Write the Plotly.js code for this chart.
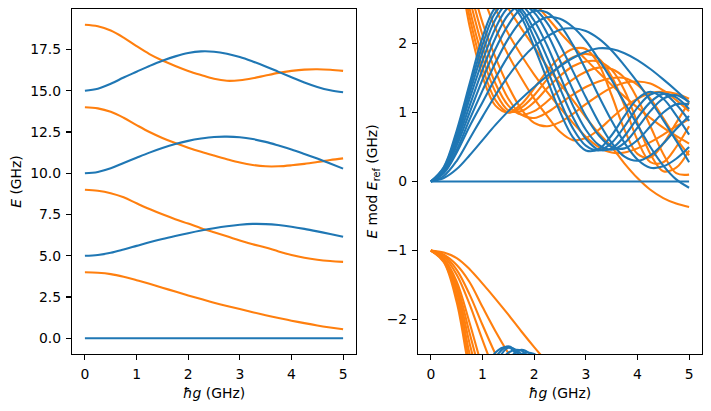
<!DOCTYPE html>
<html>
<head>
<meta charset="utf-8">
<script src="https://cdn.plot.ly/plotly-3.0.1.min.js"></script>
<style>
  html, body { margin: 0; padding: 0; background: #ffffff; }
  #chart { width: 711px; height: 411px; }
</style>
</head>
<body>
<div id="chart"></div>
<script>
// coupling strength values (GHz)
const g = [0, 0.25, 0.5, 0.75, 1, 1.25, 1.5, 1.75, 2, 2.25, 2.5, 2.75, 3, 3.25, 3.5, 3.75, 4, 4.25, 4.5, 4.75, 5];

// reference energy (GHz) used for the folding in the right panel
const eRef = 5;

// blue levels: deviation from n * E_ref
const blue0  = [0,0,0,0,0,0,0,0,0,0,0,0,0,0,0,0,0,0,0,0,0];
const blue1  = [0, 0.05, 0.18, 0.38, 0.6, 0.82, 1.02, 1.2, 1.37, 1.53, 1.67, 1.79, 1.88, 1.93, 1.92, 1.86, 1.76, 1.63, 1.48, 1.32, 1.15];
const blue2  = [0, 0.08, 0.3, 0.62, 0.94, 1.25, 1.53, 1.77, 1.96, 2.1, 2.2, 2.22, 2.18, 2.07, 1.9, 1.68, 1.44, 1.17, 0.89, 0.59, 0.28];
const blue3  = [0, 0.12, 0.42, 0.8, 1.15, 1.5, 1.82, 2.08, 2.28, 2.38, 2.36, 2.24, 2.04, 1.77, 1.47, 1.14, 0.82, 0.5, 0.23, 0.03, -0.09];
const blue4  = [0, 0.14, 0.46, 0.9, 1.32, 1.72, 2.07, 2.33, 2.47, 2.45, 2.27, 1.98, 1.62, 1.24, 0.88, 0.56, 0.32, 0.2, 0.22, 0.33, 0.5];
const blue5  = [0, 0.16, 0.52, 1.0, 1.48, 1.92, 2.27, 2.5, 2.5, 2.3, 1.98, 1.6, 1.22, 0.86, 0.56, 0.36, 0.3, 0.38, 0.55, 0.76, 0.95];
const blue6  = [0, 0.17, 0.57, 1.1, 1.62, 2.08, 2.42, 2.56, 2.45, 2.15, 1.75, 1.33, 0.95, 0.67, 0.5, 0.48, 0.6, 0.8, 1.0, 1.12, 1.12];
const blue7  = [0, 0.18, 0.62, 1.2, 1.75, 2.22, 2.52, 2.55, 2.33, 1.97, 1.53, 1.1, 0.75, 0.53, 0.46, 0.56, 0.78, 1.02, 1.2, 1.25, 1.15];
const blue8  = [0, 0.19, 0.66, 1.28, 1.87, 2.35, 2.59, 2.5, 2.2, 1.8, 1.35, 0.93, 0.62, 0.46, 0.48, 0.66, 0.92, 1.15, 1.27, 1.22, 1.05];
const blue9  = [0, 0.2, 0.7, 1.35, 1.98, 2.45, 2.61, 2.45, 2.08, 1.63, 1.17, 0.77, 0.52, 0.45, 0.56, 0.8, 1.07, 1.26, 1.28, 1.12, 0.88];
const blue10 = [0, 0.21, 0.74, 1.42, 2.09, 2.52, 2.6, 2.38, 1.95, 1.48, 1.01, 0.64, 0.45, 0.47, 0.67, 0.95, 1.2, 1.3, 1.2, 0.96, 0.68];

// orange levels: deviation from (n + 1) * E_ref
const orange0 = [-1, -1.03, -1.11, -1.27, -1.48, -1.7, -1.93, -2.17, -2.4, -2.62, -2.84, -3.04, -3.23, -3.42, -3.6, -3.77, -3.93, -4.08, -4.22, -4.34, -4.45];
const orange1 = [-1, -1.06, -1.21, -1.46, -1.82, -2.17, -2.49, -2.78, -3.05, -3.33, -3.58, -3.82, -4.07, -4.3, -4.5, -4.74, -4.95, -5.12, -5.24, -5.32, -5.37];
const orange2 = [-1, -1.07, -1.28, -1.64, -2.08, -2.5, -2.86, -3.17, -3.45, -3.7, -3.93, -4.15, -4.35, -4.5, -4.58, -4.58, -4.52, -4.43, -4.32, -4.2, -4.1];
const orange3 = [-1, -1.09, -1.35, -1.78, -2.3, -2.78, -3.17, -3.5, -3.8, -4.05, -4.28, -4.4, -4.37, -4.25, -4.08, -3.92, -3.8, -3.72, -3.7, -3.73, -3.8];
const orange4 = [-1, -1.12, -1.45, -2.05, -2.7, -3.2, -3.62, -3.95, -4.15, -4.2, -4.14, -4.02, -3.88, -3.75, -3.64, -3.57, -3.55, -3.58, -3.68, -3.82, -3.98];
const orange5 = [-1, -1.13, -1.5, -2.2, -2.88, -3.4, -3.8, -4.03, -4.08, -4.0, -3.87, -3.74, -3.63, -3.55, -3.5, -3.5, -3.6, -3.8, -4.08, -4.38, -4.62];
const orange6 = [-1, -1.14, -1.55, -2.35, -3.05, -3.58, -3.9, -4.03, -3.98, -3.84, -3.67, -3.52, -3.41, -3.35, -3.37, -3.5, -3.8, -4.2, -4.6, -4.88, -4.9];
const orange7 = [-1, -1.15, -1.6, -2.5, -3.2, -3.7, -3.97, -3.98, -3.85, -3.65, -3.47, -3.33, -3.26, -3.26, -3.38, -3.68, -4.15, -4.6, -4.85, -4.8, -4.55];
const orange8 = [-1, -1.16, -1.68, -2.62, -3.35, -3.82, -4.0, -3.93, -3.75, -3.52, -3.32, -3.2, -3.15, -3.22, -3.48, -3.9, -4.4, -4.72, -4.72, -4.5, -4.2];
const orange9 = [-1, -1.17, -1.75, -2.75, -3.48, -3.9, -4.0, -3.88, -3.65, -3.4, -3.2, -3.08, -3.08, -3.3, -3.75, -4.25, -4.6, -4.65, -4.45, -4.15, -3.85];

const blueLevels = [blue0, blue1, blue2, blue3, blue4, blue5, blue6, blue7, blue8, blue9, blue10];
const orangeLevels = [orange0, orange1, orange2, orange3, orange4, orange5, orange6, orange7, orange8, orange9];

const BLUE = '#1f77b4';
const ORANGE = '#ff7f0e';
const LW = 2.1;
const FONT = { family: 'DejaVu Sans', size: 13.9, color: '#000' };

const traces = [];
function line(x, y, color, xa, ya) {
  traces.push({
    x: x, y: y, type: 'scatter', mode: 'lines',
    line: { color: color, width: LW, shape: 'spline', smoothing: 1 },
    xaxis: xa, yaxis: ya, hoverinfo: 'skip', showlegend: false
  });
}

// left panel: the first four levels of each family, absolute energies
for (let n = 0; n < 4; n++) {
  line(g, orangeLevels[n].map(v => v + (n + 1) * eRef), ORANGE, 'x', 'y');
  line(g, blueLevels[n].map(v => v + n * eRef), BLUE, 'x', 'y');
}

// right panel: energies folded into [-E_ref/2, E_ref/2]
const shifts = [-eRef, 0, eRef, 2 * eRef];
function folded(dev, color) {
  shifts.forEach(s => {
    const y = dev.map(v => v + s);
    if (y.some(v => v > -2.75 && v < 2.75)) line(g, y, color, 'x2', 'y2');
  });
}
orangeLevels.forEach(d => folded(d, ORANGE));
blueLevels.forEach(d => folded(d, BLUE));

const axisCommon = {
  showgrid: false, zeroline: false,
  showline: true, mirror: true, linecolor: '#000', linewidth: 1.1,
  ticks: 'outside', ticklen: 5, tickwidth: 1.1, tickcolor: '#000',
  ticklabelstandoff: 2,
  tickfont: FONT
};

const layout = {
  width: 711, height: 411,
  margin: { l: 72.3, r: 8.7, t: 9.3, b: 57 },
  paper_bgcolor: '#ffffff', plot_bgcolor: '#ffffff',
  font: FONT,
  showlegend: false,
  xaxis: Object.assign({}, axisCommon, {
    domain: [0, 0.4508], range: [-0.25, 5.25], tickvals: [0, 1, 2, 3, 4, 5],
    title: { text: '<i>ħg</i> (GHz)', standoff: 7, font: FONT }
  }),
  yaxis: Object.assign({}, axisCommon, {
    domain: [0, 1], range: [-0.95, 19.95],
    tickvals: [0, 2.5, 5, 7.5, 10, 12.5, 15, 17.5], tickformat: '.1f',
    title: { text: '<i>E</i> (GHz)', standoff: 5, font: FONT }
  }),
  xaxis2: Object.assign({}, axisCommon, {
    domain: [0.5492, 1], range: [-0.25, 5.25], tickvals: [0, 1, 2, 3, 4, 5], anchor: 'y2',
    title: { text: '<i>ħg</i> (GHz)', standoff: 7, font: FONT }
  }),
  yaxis2: Object.assign({}, axisCommon, {
    domain: [0, 1], range: [-2.5, 2.5], tickvals: [-2, -1, 0, 1, 2], anchor: 'x2',
    title: { text: '<i>E</i> mod <i>E</i><sub>ref</sub> (GHz)', standoff: 5, font: FONT }
  })
};

Plotly.newPlot('chart', traces, layout, { displayModeBar: false, staticPlot: true });
</script>
</body>
</html>
